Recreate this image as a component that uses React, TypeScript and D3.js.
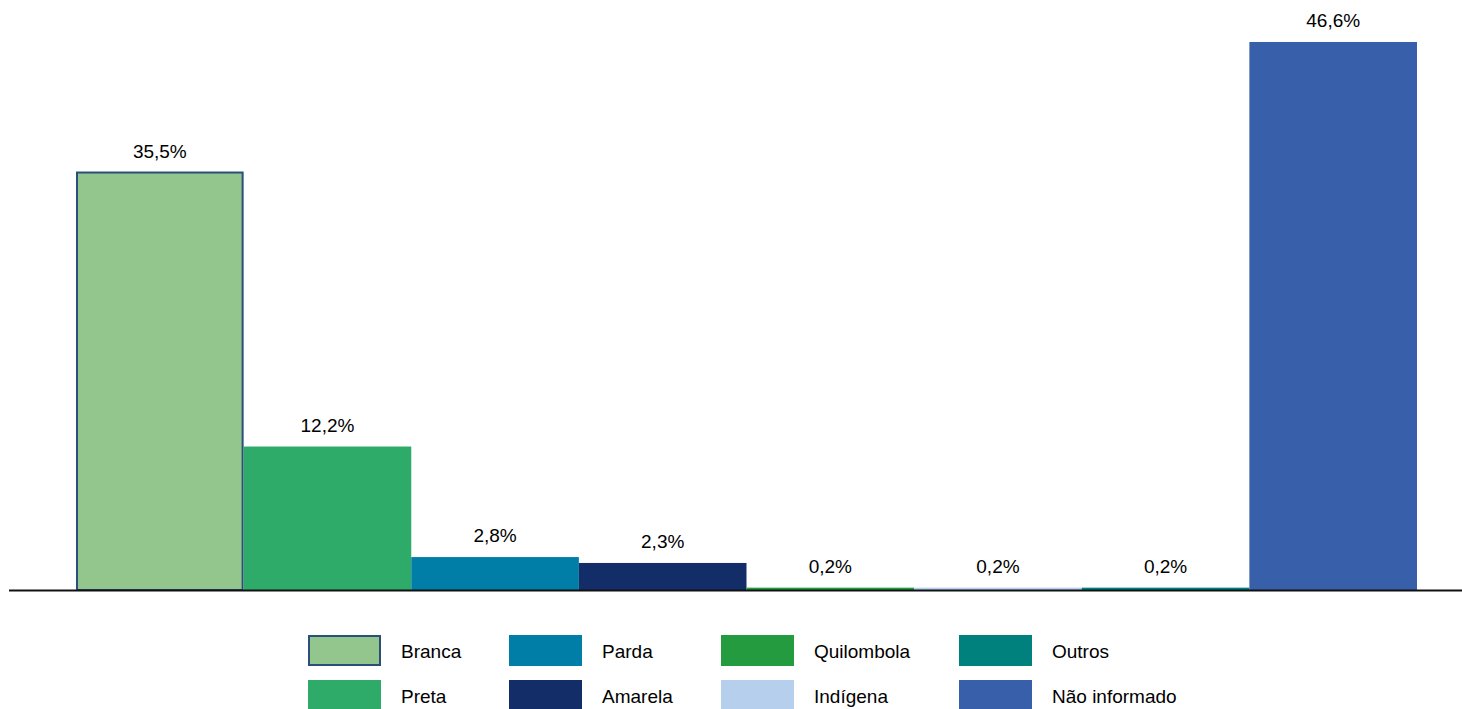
import React from "react";
import * as d3 from "d3";

const categories = ["Branca", "Preta", "Parda", "Amarela", "Quilombola", "Indígena", "Outros", "Não informado"];
const values = [35.5, 12.2, 2.8, 2.3, 0.2, 0.2, 0.2, 46.6];
const labels = ["35,5%", "12,2%", "2,8%", "2,3%", "0,2%", "0,2%", "0,2%", "46,6%"];
const colors = ["#93c68d", "#2eab69", "#007ea7", "#132d69", "#259b40", "#b6cfed", "#00817e", "#3860aa"];
const legendOrder = [
  ["Branca", "Parda", "Quilombola", "Outros"],
  ["Preta", "Amarela", "Indígena", "Não informado"],
];

export default function App() {
  const W = 1462, H = 709;
  const x = d3.scaleBand<string>().domain(categories).range([76, 1417]).padding(0);
  const y = d3.scaleLinear().domain([0, 50]).range([590, 2]);
  const font = "Liberation Sans, Arial, sans-serif";
  const legendX = [308, 509, 721, 959];
  const legendY = [635, 680];
  const colorOf = (c: string) => colors[categories.indexOf(c)];

  return (
    <svg width={W} height={H} style={{ position: "absolute", left: 0, top: 0 }} fontFamily={font}>
      <rect width={W} height={H} fill="#fff" />
      {categories.map((c, i) => {
        const x0 = x(c)!;
        const yTop = y(values[i]);
        const isBranca = c === "Branca";
        return (
          <g key={c}>
            <rect
              x={isBranca ? x0 + 1 : x0}
              y={yTop}
              width={isBranca ? x.bandwidth() - 2 : x.bandwidth()}
              height={y(0) - yTop}
              fill={colors[i]}
              stroke={isBranca ? "#2a4f7a" : "none"}
              strokeWidth={isBranca ? 2 : 0}
            />
            <text
              x={x0 + x.bandwidth() / 2}
              y={yTop - 15}
              textAnchor="middle"
              fontSize={19}
              fill="#000"
            >
              {labels[i]}
            </text>
          </g>
        );
      })}
      <line x1={9} x2={1462} y1={590.5} y2={590.5} stroke="#111" strokeWidth={2} />
      {legendOrder.map((row, r) =>
        row.map((c, k) => (
          <g key={c}>
            <rect
              x={legendX[k] + (c === "Branca" ? 1 : 0)}
              y={legendY[r] + (c === "Branca" ? 1 : 0)}
              width={c === "Branca" ? 71 : 73}
              height={c === "Branca" ? 29 : 31}
              fill={colorOf(c)}
              stroke={c === "Branca" ? "#2a4f7a" : "none"}
              strokeWidth={2}
            />
            <text x={legendX[k] + 93} y={legendY[r] + 16} dominantBaseline="central" fontSize={19} fill="#000">
              {c}
            </text>
          </g>
        ))
      )}
    </svg>
  );
}
